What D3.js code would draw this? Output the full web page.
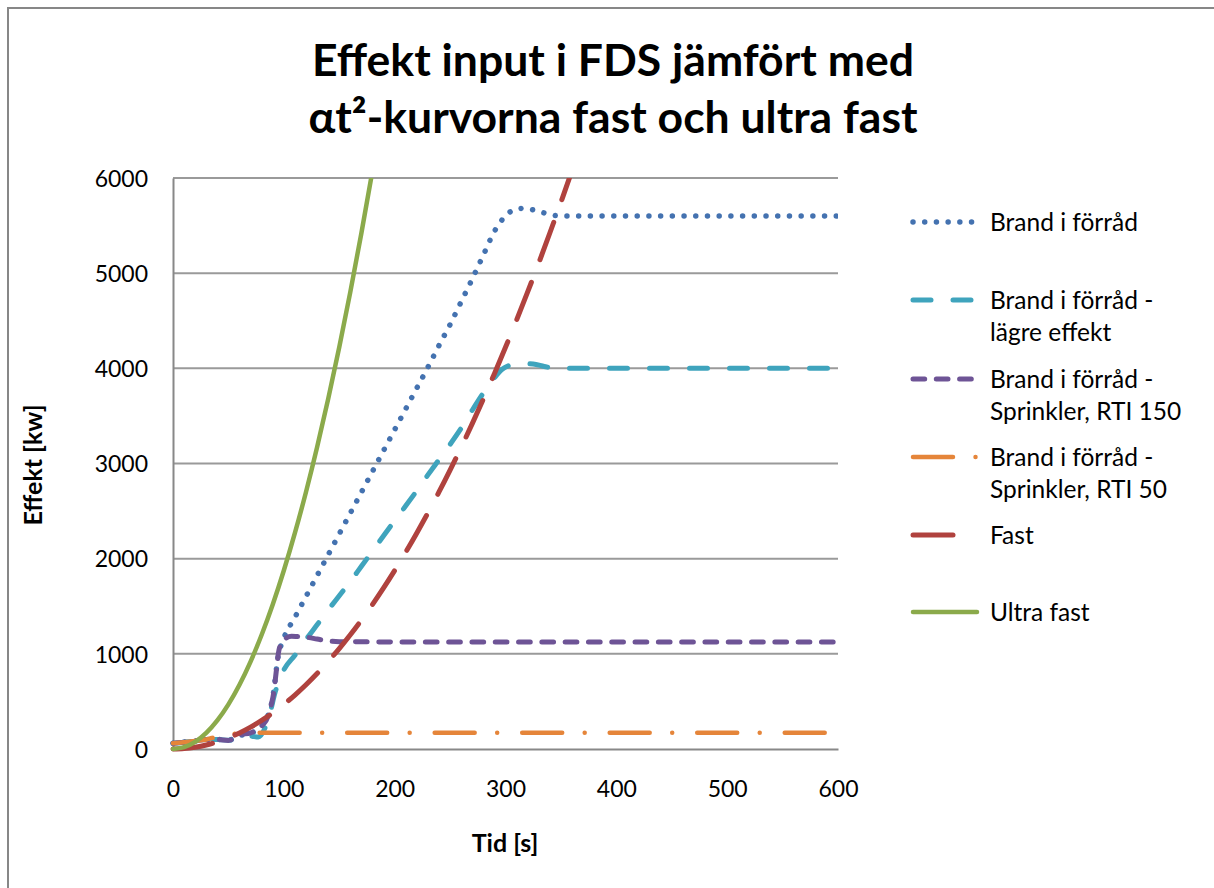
<!DOCTYPE html>
<html>
<head>
<meta charset="utf-8">
<script src="https://cdn.jsdelivr.net/npm/d3@7/dist/d3.min.js"></script>
<style>
  html, body { margin: 0; padding: 0; background: #fff; }
  svg { display: block; font-family: Lato, "Open Sans", sans-serif; }
</style>
</head>
<body>
<svg id="chart" width="1214" height="888"></svg>
<script>
// ---- Data: heat release rate (kW) over time (s) ----
const seriesNames = [
  "Brand i förråd",
  "Brand i förråd - lägre effekt",
  "Brand i förråd - Sprinkler, RTI 150",
  "Brand i förråd - Sprinkler, RTI 50",
  "Fast",
  "Ultra fast"
];

const storageTime = [0, 10, 20, 30, 40, 50, 60, 70, 80, 85, 90, 95, 100, 110, 120, 130, 140, 150, 160, 170, 180, 190, 200, 210, 220, 230, 240, 250, 260, 270, 280, 290, 295, 300, 305, 310, 317, 325, 335, 345, 355, 400, 500, 600];
const storageHRR  = [60, 72, 85, 100, 100, 92, 140, 165, 240, 330, 540, 980, 1165, 1384, 1603, 1822, 2040, 2260, 2479, 2698, 2917, 3136, 3355, 3574, 3793, 4012, 4240, 4460, 4700, 4940, 5190, 5440, 5530, 5605, 5650, 5675, 5682, 5665, 5632, 5605, 5600, 5600, 5600, 5600];

const lowerTime = [0, 10, 20, 30, 40, 50, 60, 70, 77, 83, 88, 92, 96, 100, 110, 120, 130, 140, 150, 160, 170, 180, 190, 200, 210, 220, 230, 240, 250, 260, 270, 280, 290, 297, 305, 315, 325, 335, 345, 400, 500, 600];
const lowerHRR  = [60, 72, 85, 100, 100, 92, 135, 135, 125, 220, 400, 590, 720, 830, 985, 1150, 1305, 1460, 1610, 1760, 1920, 2080, 2240, 2400, 2555, 2715, 2880, 3040, 3200, 3370, 3560, 3740, 3900, 3990, 4035, 4050, 4045, 4020, 4000, 4000, 4000, 4000];

const rti150Time = [0, 10, 20, 30, 40, 50, 60, 70, 80, 86, 89, 91, 93, 95, 98, 102, 107, 112, 120, 130, 140, 150, 200, 300, 400, 500, 600];
const rti150HRR  = [60, 72, 85, 100, 100, 90, 150, 170, 240, 350, 480, 600, 800, 1000, 1120, 1165, 1185, 1182, 1175, 1155, 1135, 1128, 1125, 1125, 1125, 1125, 1125];

const rti50Time = [0, 10, 20, 30, 35, 45, 55, 65, 100, 200, 300, 400, 500, 600];
const rti50HRR  = [60, 72, 85, 100, 115, 140, 160, 170, 170, 170, 170, 170, 170, 170];

const fastTime = [0, 10, 20, 30, 40, 50, 60, 70, 80, 90, 100, 110, 120, 130, 140, 150, 160, 170, 180, 190, 200, 210, 220, 230, 240, 250, 260, 270, 280, 290, 300, 310, 320, 330, 340, 350, 360];
const fastHRR  = [0, 5, 19, 42, 75, 117, 169, 230, 300, 380, 469, 567, 675, 793, 919, 1055, 1201, 1355, 1519, 1693, 1876, 2068, 2270, 2481, 2701, 2931, 3170, 3419, 3677, 3944, 4221, 4507, 4803, 5107, 5422, 5745, 6078];

const ultraTime = [0, 10, 20, 30, 40, 50, 60, 70, 80, 90, 100, 110, 120, 130, 140, 150, 160, 170, 180];
const ultraHRR  = [0, 19, 75, 169, 300, 469, 675, 919, 1201, 1519, 1876, 2270, 2701, 3170, 3677, 4221, 4803, 5422, 6078];

const xTicks = [0, 100, 200, 300, 400, 500, 600];
const yTicks = [0, 1000, 2000, 3000, 4000, 5000, 6000];

const titleLines = ["Effekt input i FDS jämfört med", "αt²-kurvorna fast och ultra fast"];
const xTitle = "Tid [s]";
const yTitle = "Effekt [kw]";

// ---- Styling per series ----
const styles = [
  { color: "#4472B0", width: 5.5, dash: "0.01 11.7", cap: "round" },
  { color: "#3FA4BD", width: 5,   dash: "18 22",     cap: "round" },
  { color: "#6E5496", width: 5,   dash: "11.7 11.6", cap: "round" },
  { color: "#E5853A", width: 4.5, dash: "40 22.5 0.01 25", cap: "round" },
  { color: "#B0423E", width: 5,   dash: "40 24",     cap: "round" },
  { color: "#8BAA4B", width: 4.5, dash: null,        cap: "round" }
];

const series = [
  [storageTime, storageHRR],
  [lowerTime, lowerHRR],
  [rti150Time, rti150HRR],
  [rti50Time, rti50HRR],
  [fastTime, fastHRR],
  [ultraTime, ultraHRR]
].map(([t, v], i) => ({
  name: seriesNames[i],
  style: styles[i],
  points: t.map((tt, k) => ({ t: tt, v: v[k] }))
}));

const svg = d3.select("#chart");
const W = 1214, H = 888;

// outer chart frame
svg.append("rect")
  .attr("x", 8).attr("y", 8)
  .attr("width", W).attr("height", H)
  .attr("fill", "#fff")
  .attr("stroke", "#878787").attr("stroke-width", 2);

const plot = { left: 173, right: 838, top: 178, bottom: 749 };

const x = d3.scaleLinear().domain([0, 600]).range([plot.left, plot.right]);
const y = d3.scaleLinear().domain([0, 6000]).range([plot.bottom, plot.top]);

// horizontal gridlines
svg.append("g")
  .selectAll("line")
  .data(yTicks.filter(d => d > 0))
  .join("line")
  .attr("x1", plot.left).attr("x2", plot.right)
  .attr("y1", d => y(d)).attr("y2", d => y(d))
  .attr("stroke", "#9a9a9a").attr("stroke-width", 2);

// axes
const yAxis = d3.axisLeft(y).tickValues(yTicks).tickSize(0).tickPadding(25).tickFormat(d3.format("d"));
const xAxis = d3.axisBottom(x).tickValues(xTicks).tickSize(0).tickPadding(32).tickFormat(d3.format("d"));

const gy = svg.append("g").attr("transform", `translate(${plot.left},0)`).call(yAxis);
const gx = svg.append("g").attr("transform", `translate(0,${plot.bottom})`).call(xAxis);
[gx, gy].forEach(g => {
  g.select(".domain").attr("stroke", "#888").attr("stroke-width", 2);
  g.selectAll("text").attr("font-family", "Lato, sans-serif").attr("font-size", 23).attr("fill", "#000");
});
gy.selectAll("text").attr("dy", "0.36em");
gx.selectAll("text").attr("dy", "0.71em");

// clip lines to the plot area
svg.append("clipPath").attr("id", "plotClip")
  .append("rect")
  .attr("x", plot.left - 4).attr("y", plot.top)
  .attr("width", plot.right - plot.left + 4).attr("height", plot.bottom - plot.top + 6);

const line = d3.line()
  .x(d => x(d.t))
  .y(d => y(d.v))
  .curve(d3.curveMonotoneX);

const lines = svg.append("g").attr("clip-path", "url(#plotClip)");
series.forEach(s => {
  lines.append("path")
    .datum(s.points)
    .attr("d", line)
    .attr("fill", "none")
    .attr("stroke", s.style.color)
    .attr("stroke-width", s.style.width)
    .attr("stroke-linecap", s.style.cap)
    .attr("stroke-linejoin", "round")
    .attr("stroke-dasharray", s.style.dash);
});

// title
svg.append("g").selectAll("text")
  .data(titleLines)
  .join("text")
  .attr("x", 613)
  .attr("y", (d, i) => 76 + i * 57)
  .attr("text-anchor", "middle")
  .attr("font-family", "Lato, sans-serif")
  .attr("font-weight", "bold")
  .attr("font-size", 44.5)
  .attr("fill", "#000")
  .text(d => d);

// axis titles
svg.append("text")
  .attr("x", 505).attr("y", 852)
  .attr("text-anchor", "middle")
  .attr("font-weight", "bold").attr("font-size", 25)
  .text(xTitle);

svg.append("text")
  .attr("transform", "translate(42,465) rotate(-90)")
  .attr("text-anchor", "middle")
  .attr("font-weight", "bold").attr("font-size", 25)
  .text(yTitle);

// legend
const legendRows = [
  { lines: ["Brand i förråd"], y: 222 },
  { lines: ["Brand i förråd -", "lägre effekt"], y: 300 },
  { lines: ["Brand i förråd -", "Sprinkler, RTI 150"], y: 379 },
  { lines: ["Brand i förråd -", "Sprinkler, RTI 50"], y: 457 },
  { lines: ["Fast"], y: 535 },
  { lines: ["Ultra fast"], y: 612 }
];

const legend = svg.append("g");
legendRows.forEach((row, i) => {
  const st = styles[i];
  legend.append("line")
    .attr("x1", 913).attr("x2", 977)
    .attr("y1", row.y).attr("y2", row.y)
    .attr("stroke", st.color)
    .attr("stroke-width", st.width)
    .attr("stroke-linecap", st.cap)
    .attr("stroke-dasharray", st.dash);
  row.lines.forEach((txt, k) => {
    legend.append("text")
      .attr("x", 990)
      .attr("y", row.y + k * 32)
      .attr("dy", "0.36em")
      .attr("font-size", 24.5)
      .attr("fill", "#000")
      .text(txt);
  });
});
</script>
</body>
</html>
